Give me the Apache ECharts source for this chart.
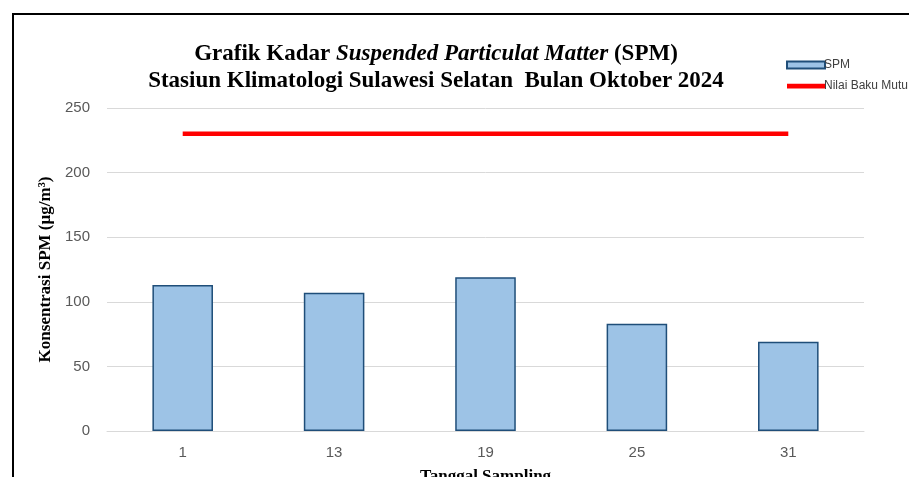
<!DOCTYPE html>
<html>
<head>
<meta charset="utf-8">
<script src="https://cdn.jsdelivr.net/npm/echarts@6/dist/echarts.min.js"></script>
<style>
html, body { margin: 0; padding: 0; background: #fff; }
#spm_chart { width: 909px; height: 477px; }
</style>
</head>
<body>
<div id="spm_chart"></div>
<script>
var tanggal = ['1', '13', '19', '25', '31'];
var spmValues = [113, 107, 119, 83, 69];
var bakuMutu = [230, 230, 230, 230, 230];

var serif = '"Liberation Serif", "Times New Roman", serif';
var sans = '"Liberation Sans Narrow", "Liberation Sans", sans-serif';

var spmChart = echarts.init(document.getElementById('spm_chart'));
spmChart.setOption({
    animation: false,
    graphic: [{
        type: 'rect',
        shape: { x: 13, y: 14, width: 920, height: 480 },
        style: { fill: 'none', stroke: '#000', lineWidth: 2 }
    }, {
        type: 'text',
        x: 436,
        y: 41,
        style: {
            text: '{b|Grafik Kadar }{i|Suspended Particulat Matter}{b| (SPM)}\n{b|Stasiun Klimatologi Sulawesi Selatan  Bulan Oktober 2024}',
            align: 'center',
            rich: {
                b: { fontFamily: serif, fontWeight: 'bold', fontSize: 23, lineHeight: 27, fill: '#000' },
                i: { fontFamily: serif, fontWeight: 'bold', fontStyle: 'italic', fontSize: 23, lineHeight: 27, fill: '#000' }
            }
        }
    }],
    legend: {
        orient: 'vertical',
        left: 781,
        top: 54,
        itemWidth: 38,
        itemHeight: 7,
        itemGap: 9,
        textStyle: { fontFamily: sans, fontSize: 12, color: '#404040', padding: [0, 0, 0, -6] },
        data: [
            { name: 'SPM', icon: 'rect' },
            { name: 'Nilai Baku Mutu', icon: 'path://M0,0H40V5H0Z' }
        ]
    },
    grid: {
        left: 107,
        right: 45,
        top: 108,
        bottom: 46,
        outerBoundsMode: 'none',
        containLabel: false
    },
    xAxis: {
        type: 'category',
        data: tanggal,
        name: 'Tanggal Sampling',
        nameLocation: 'middle',
        nameGap: 37,
        nameTextStyle: { fontFamily: serif, fontWeight: 'bold', fontSize: 17, color: '#000' },
        axisLine: { lineStyle: { color: '#D9D9D9', width: 1 } },
        axisTick: { show: false },
        axisLabel: { fontFamily: sans, fontSize: 15, color: '#595959', margin: 14 }
    },
    yAxis: {
        type: 'value',
        min: 0,
        max: 250,
        interval: 50,
        name: 'Konsentrasi SPM (µg/m³)',
        nameLocation: 'middle',
        nameGap: 52,
        nameTextStyle: { fontFamily: serif, fontWeight: 'bold', fontSize: 17, color: '#000' },
        axisLine: { show: false },
        axisTick: { show: false },
        axisLabel: { fontFamily: sans, fontSize: 15, color: '#595959', margin: 17 },
        splitLine: { lineStyle: { color: '#D9D9D9', width: 1 } }
    },
    series: [{
        name: 'SPM',
        type: 'bar',
        barWidth: '40%',
        data: spmValues,
        itemStyle: {
            color: '#9DC3E6',
            borderColor: '#1F4E79',
            borderWidth: 1.5
        }
    }, {
        name: 'Nilai Baku Mutu',
        type: 'line',
        symbol: 'none',
        data: bakuMutu,
        lineStyle: {
            color: '#FF0000',
            width: 4.5
        },
        itemStyle: { color: '#FF0000' }
    }]
});
</script>
</body>
</html>
